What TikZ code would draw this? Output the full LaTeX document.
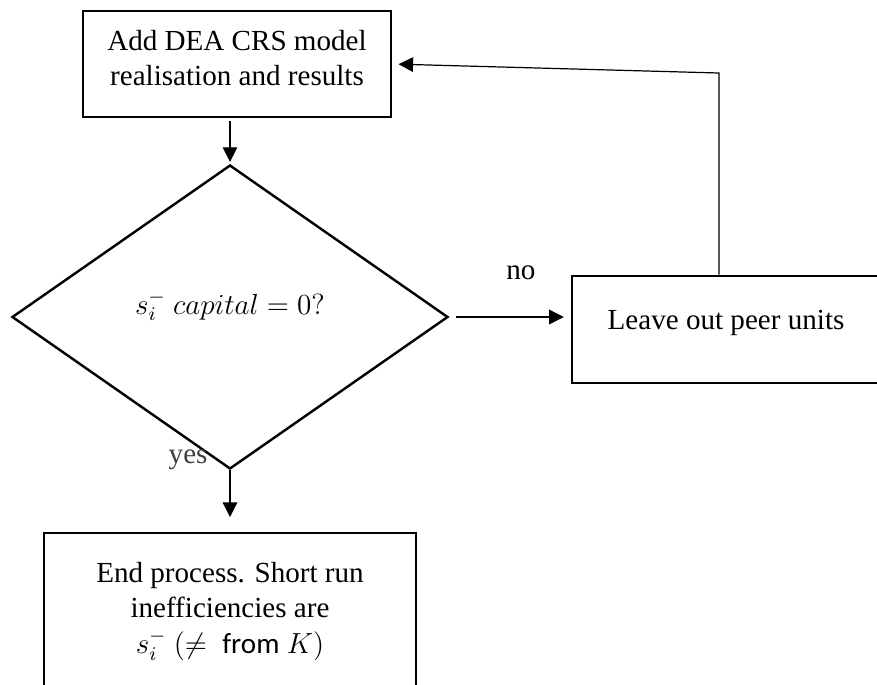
\documentclass[tikz,border=0pt]{standalone}
\usepackage{fontspec}
\setmainfont{Liberation Serif}
\newfontfamily\fromfont{Carlito}
\usetikzlibrary{shapes.geometric,arrows.meta}
\newcommand{\unitpx}{0.0145cm}
\definecolor{labelgray}{RGB}{64,64,64}
\tikzset{
  flow/.style={
    x=\unitpx, y=-\unitpx,
    font=\fontsize{12}{14.8}\selectfont
  },
  box/.style={
    rectangle, draw=black, line width=1.2pt,
    inner sep=0pt, align=center
  },
  decision/.style={
    diamond, draw=black, line width=1pt, inner sep=0pt,
    minimum width=436*\unitpx, minimum height=304*\unitpx
  },
  link/.style={
    line width=0.5pt,
    -{Triangle[length=6pt,width=6pt]}
  },
  answer/.style={inner sep=0pt},
  answer-gray/.style={answer, text=labelgray}
}

\begin{document}
\begin{tikzpicture}[flow]
  \useasboundingbox (0,0) rectangle (877,684);
  % boxes and the test
  \node[box, minimum width=308*\unitpx, minimum height=106*\unitpx, text depth=5pt] (start) at (237,64)
    {Add DEA CRS model\\realisation and results};
  \node[decision, text height=8pt, text depth=10.4pt] (check) at (230,317)
    {$s_i^-\ capital = 0?$};
  \node[box, minimum width=308*\unitpx, minimum height=107*\unitpx, text height=8.5pt, text depth=8.5pt] (peers) at (726,329.5)
    {Leave out peer units};
  \node[box, minimum width=372*\unitpx, minimum height=157*\unitpx] (finish) at (230,611.5)
    {End process. Short run\\inefficiencies are\\$s_i^-\ (\neq\ \mbox{\fromfont from}\ K)$};
  \coordinate (turn) at (719,73);
  % connectors
  \draw[link, shorten <=1.2pt, shorten >=0.8pt] (start.south -| check.north) -- (check.north);
  \draw[link, shorten <=2.8pt, shorten >=2.8pt] (check.east) -- (check.east -| peers.west)
    node[answer, pos=0.59, above=15pt] (no) {no};
  \draw[link, shorten >=6pt] (check.south) -- (check.south |- finish.north);
  \draw[link, shorten >=2.5pt] (turn |- peers.north) -- (turn) -- (start.east);
  \node[answer-gray, anchor=base east] (yes) at ([shift={(-22,-7)}]check.south) {yes};
\end{tikzpicture}
\end{document}
